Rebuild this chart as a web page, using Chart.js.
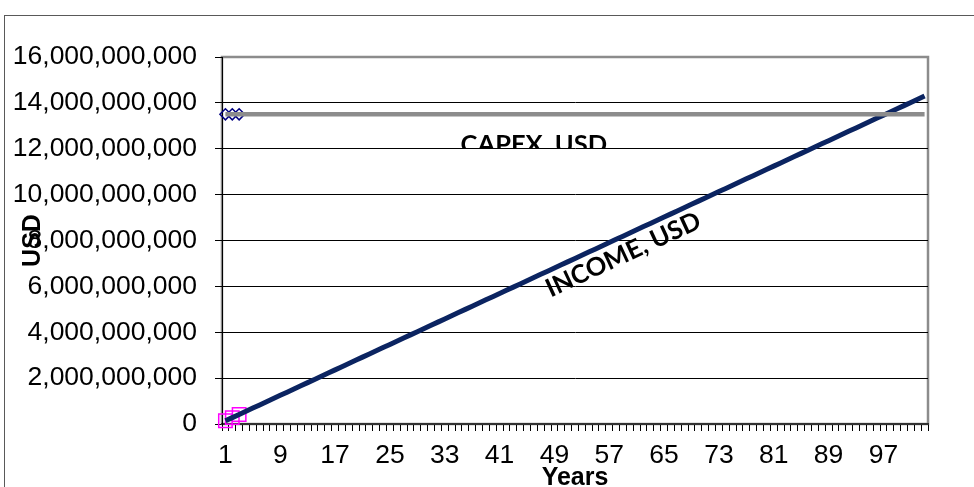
<!DOCTYPE html>
<html>
<head>
<meta charset="utf-8">
<script src="https://cdn.jsdelivr.net/npm/chart.js@4.4.1/dist/chart.umd.min.js"></script>
<style>
  html, body { margin: 0; padding: 0; background: #fff; overflow: hidden; }
  canvas { display: block; }
</style>
</head>
<body>
<canvas id="chart" width="974" height="487"></canvas>
<script>
"use strict";

// Project years on the category axis; only every 8th one gets a label.
const YEARS = Array.from({ length: 103 }, (_, i) => String(i + 1));
const LABEL_EVERY = 8;

// Cumulative income, millions of USD, year 1..103.
const INCOME_M = [
  139, 278, 416, 555, 694, 833, 972, 1110, 1249, 1388,
  1527, 1666, 1804, 1943, 2082, 2221, 2360, 2498, 2637, 2776,
  2915, 3054, 3192, 3331, 3470, 3609, 3748, 3886, 4025, 4164,
  4303, 4442, 4580, 4719, 4858, 4997, 5136, 5274, 5413, 5552,
  5691, 5830, 5968, 6107, 6246, 6385, 6524, 6662, 6801, 6940,
  7079, 7218, 7356, 7495, 7634, 7773, 7912, 8050, 8189, 8328,
  8467, 8606, 8744, 8883, 9022, 9161, 9300, 9438, 9577, 9716,
  9855, 9994, 10132, 10271, 10410, 10549, 10688, 10826, 10965, 11104,
  11243, 11382, 11520, 11659, 11798, 11937, 12076, 12214, 12353, 12492,
  12631, 12770, 12908, 13047, 13186, 13325, 13464, 13602, 13741, 13880,
  14019, 14158, 14296,
];

// Capital expenditure, millions of USD, flat over the whole period.
const CAPEX_M = [
  13500, 13500, 13500, 13500, 13500, 13500, 13500, 13500, 13500, 13500,
  13500, 13500, 13500, 13500, 13500, 13500, 13500, 13500, 13500, 13500,
  13500, 13500, 13500, 13500, 13500, 13500, 13500, 13500, 13500, 13500,
  13500, 13500, 13500, 13500, 13500, 13500, 13500, 13500, 13500, 13500,
  13500, 13500, 13500, 13500, 13500, 13500, 13500, 13500, 13500, 13500,
  13500, 13500, 13500, 13500, 13500, 13500, 13500, 13500, 13500, 13500,
  13500, 13500, 13500, 13500, 13500, 13500, 13500, 13500, 13500, 13500,
  13500, 13500, 13500, 13500, 13500, 13500, 13500, 13500, 13500, 13500,
  13500, 13500, 13500, 13500, 13500, 13500, 13500, 13500, 13500, 13500,
  13500, 13500, 13500, 13500, 13500, 13500, 13500, 13500, 13500, 13500,
  13500, 13500, 13500,
];

// The first few years are also shown with markers.
const CAPEX_MARKS_M = [13500, 13500, 13500];
const INCOME_MARKS_M = [139, 278, 416];

const Y_MAX = 16000000000;
const Y_STEP = 2000000000;

const NAVY = "#0b2461";
const GREY = "#8c8c8c";
const TICK_FONT = { family: "'Liberation Sans', Arial, sans-serif", size: 26.5 };
const TITLE_FONT = { family: "'Liberation Sans', Arial, sans-serif", size: 25, weight: "bold", lineHeight: 1 };
const NOTE_FONT = "bold 25.5px Lato, 'Liberation Sans', sans-serif";

const usd = (m) => m * 1e6;

// Outer frame plus the grey plot-area border under the axes.
const framePlugin = {
  id: "frame",
  beforeDraw(chart) {
    const { ctx, chartArea: a } = chart;
    ctx.save();
    ctx.strokeStyle = "#595959";
    ctx.lineWidth = 1;
    ctx.strokeRect(4.5, 15.5, 1200, 600);
    ctx.strokeStyle = GREY;
    ctx.lineWidth = 2.5;
    ctx.strokeRect(a.left, a.top, a.right - a.left, a.bottom - a.top);
    ctx.restore();
  },
};

// Series names written next to their lines.
const notesPlugin = {
  id: "notes",
  afterDatasetsDraw(chart) {
    const { ctx, chartArea: a } = chart;
    const x = chart.scales.x;
    const y = chart.scales.y;
    ctx.save();
    ctx.fillStyle = "#000";
    ctx.font = NOTE_FONT;

    // CAPEX label sits in a box cut off by the 12bn gridline
    const cut = y.getPixelForValue(12000000000);
    ctx.beginPath();
    ctx.rect(a.left, a.top, a.right - a.left, cut - a.top);
    ctx.clip();
    ctx.textAlign = "center";
    ctx.textBaseline = "alphabetic";
    ctx.fillText("CAPEX, USD", x.getPixelForValue(45), cut + 4);
    ctx.restore();

    // INCOME label runs along the income line, just under it
    const i0 = 20, i1 = 90, at = 57;
    const x0 = x.getPixelForValue(i0), y0 = y.getPixelForValue(usd(INCOME_M[i0]));
    const x1 = x.getPixelForValue(i1), y1 = y.getPixelForValue(usd(INCOME_M[i1]));
    const ang = Math.atan2(y1 - y0, x1 - x0);
    const px = x.getPixelForValue(at);
    const py = y.getPixelForValue(usd(INCOME_M[at]));
    ctx.save();
    ctx.translate(px, py);
    ctx.rotate(ang);
    ctx.fillStyle = "#000";
    ctx.font = NOTE_FONT;
    ctx.textAlign = "center";
    ctx.textBaseline = "middle";
    ctx.fillText("INCOME, USD", 0, 17);
    ctx.restore();
  },
};

const cfg = {
  type: "line",
  data: {
    labels: YEARS,
    datasets: [
      {
        label: "CAPEX, USD",
        data: CAPEX_M.map(usd),
        borderColor: GREY,
        borderWidth: 4.5,
        pointRadius: 0,
        order: 0,
      },
      {
        label: "INCOME, USD",
        data: INCOME_M.map(usd),
        borderColor: NAVY,
        borderWidth: 5,
        pointRadius: 0,
        order: 0,
      },
      {
        label: "CAPEX marks",
        data: CAPEX_MARKS_M.map(usd),
        showLine: false,
        clip: false,
        pointStyle: "rectRot",
        pointRadius: 5.5,
        pointBorderWidth: 1.5,
        pointBorderColor: "#000080",
        pointBackgroundColor: "rgba(0,0,0,0)",
        order: 1,
      },
      {
        label: "INCOME marks",
        data: INCOME_MARKS_M.map(usd),
        showLine: false,
        clip: false,
        pointStyle: "rect",
        pointRadius: 9.5,
        pointBorderWidth: 1.5,
        pointBorderColor: "#ff00ff",
        pointBackgroundColor: "rgba(0,0,0,0)",
        order: 1,
      },
    ],
  },
  options: {
    responsive: false,
    animation: false,
    devicePixelRatio: 1,
    layout: { padding: { left: 5, top: 57, right: 46, bottom: 0 } },
    plugins: { legend: { display: false }, tooltip: { enabled: false } },
    scales: {
      x: {
        offset: true,
        grid: {
          offset: true,
          drawOnChartArea: false,
          tickLength: 7,
          color: "#000",
          tickColor: "#000",
        },
        border: { color: "#333", width: 2 },
        ticks: {
          autoSkip: false,
          maxRotation: 0,
          minRotation: 0,
          padding: 9,
          color: "#000",
          font: TICK_FONT,
          callback: (v, i) => (i % LABEL_EVERY === 0 ? YEARS[i] : ""),
        },
        title: {
          display: true,
          text: "Years",
          color: "#000",
          font: TITLE_FONT,
          padding: { top: 0, bottom: -4 },
        },
        afterFit: (s) => { s.height = 63; },
      },
      y: {
        min: 0,
        max: Y_MAX,
        grid: {
          tickLength: 7,
          color: (c) => (c.tick && c.tick.value === Y_MAX ? GREY : "#000"),
          tickColor: "#000",
        },
        border: { color: "#000", width: 1 },
        ticks: {
          stepSize: Y_STEP,
          padding: 18,
          color: "#000",
          font: TICK_FONT,
          callback: (v) => v.toLocaleString("en-US"),
        },
        title: {
          display: true,
          text: "USD",
          color: "#000",
          font: TITLE_FONT,
          padding: { top: 16, bottom: 0 },
        },
        afterFit: (s) => { s.width = 217; },
      },
    },
  },
  plugins: [framePlugin, notesPlugin],
};

new Chart(document.getElementById("chart"), cfg);
</script>
</body>
</html>
